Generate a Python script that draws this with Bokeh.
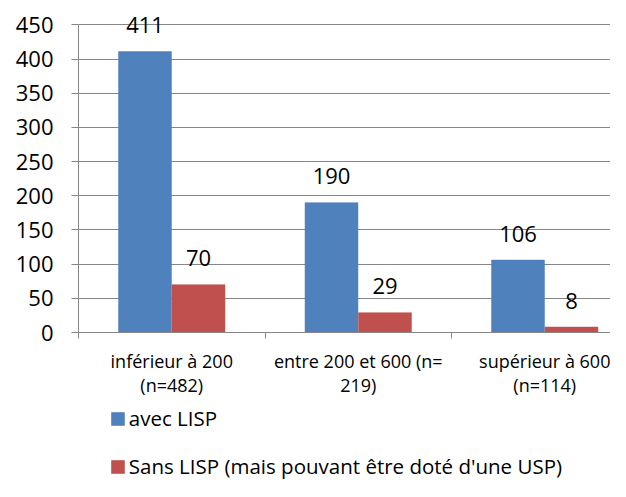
from bokeh.plotting import figure
from bokeh.layouts import column
from bokeh.models import (Range1d, FixedTicker, ColumnDataSource, LabelSet,
                          Legend, LegendItem)
from bokeh.transform import dodge
from bokeh.core.properties import value
from bokeh.embed import file_html
from bokeh.resources import INLINE

# ---- data ----
categories = ["inférieur à 200\n(n=482)", "entre 200 et 600 (n=\n219)", "supérieur à 600\n(n=114)"]
avec_lisp = [411, 190, 106]
sans_lisp = [70, 29, 8]
y_ticks = [0, 50, 100, 150, 200, 250, 300, 350, 400, 450]
series_names = ["avec LISP", "Sans LISP (mais pouvant être doté d'une USP)"]

BLUE = "#4F81BD"
RED = "#C0504D"
GRAY = "#868686"
FONT = "Open Sans"

x_pos = [i + 0.5 for i in range(len(categories))]
source = ColumnDataSource(dict(x=x_pos, avec=avec_lisp, sans=sans_lisp,
                               avec_t=[str(v) for v in avec_lisp],
                               sans_t=[str(v) for v in sans_lisp]))

p = figure(width=610, height=400,
           x_range=Range1d(0, 532 / 186.5), y_range=Range1d(0, 333 / (308.5 / 450)),
           output_backend="svg", toolbar_location=None,
           min_border_left=78, min_border_right=0, min_border_top=0,
           min_border_bottom=67)
p.outline_line_color = None
p.background_fill_color = "white"
p.border_fill_color = "white"

r1 = p.vbar(x=dodge("x", -0.1434, range=p.x_range), top="avec", width=0.284,
            source=source, fill_color=BLUE, line_color=BLUE, line_width=0.5)
r2 = p.vbar(x=dodge("x", 0.1434, range=p.x_range), top="sans", width=0.284,
            source=source, fill_color=RED, line_color=RED, line_width=0.5)

# value labels
for col, off in (("avec", -0.1434), ("sans", 0.1434)):
    p.add_layout(LabelSet(x=dodge("x", off, range=p.x_range), y=col, text=col + "_t",
                          source=source, y_offset=18.5, text_align="center",
                          text_baseline="alphabetic", text_font=value(FONT),
                          text_font_size="22px", text_color="black"))

# y axis
p.yaxis.ticker = FixedTicker(ticks=y_ticks)
p.yaxis.bounds = (0, 450)
p.yaxis.axis_line_color = GRAY
p.yaxis.major_tick_line_color = GRAY
p.yaxis.major_tick_out = 7
p.yaxis.major_tick_in = 0
p.yaxis.minor_tick_line_color = None
p.yaxis.major_label_standoff = 18
p.yaxis.major_label_text_font = FONT
p.yaxis.major_label_text_font_size = "22px"
p.yaxis.major_label_text_color = "black"

p.ygrid.ticker = FixedTicker(ticks=y_ticks)
p.ygrid.grid_line_color = GRAY
p.ygrid.grid_line_width = 1
p.xgrid.visible = False

# x axis
p.xaxis.ticker = FixedTicker(ticks=x_pos, minor_ticks=list(range(len(categories) + 1)))
p.xaxis.major_label_overrides = {x: c for x, c in zip(x_pos, categories)}
p.xaxis.axis_line_color = GRAY
p.xaxis.major_tick_out = 0
p.xaxis.major_tick_in = 0
p.xaxis.major_tick_line_color = None
p.xaxis.minor_tick_line_color = GRAY
p.xaxis.minor_tick_out = 6
p.xaxis.minor_tick_in = 0
p.xaxis.major_label_standoff = 10
p.xaxis.major_label_text_font = FONT
p.xaxis.major_label_text_font_size = "18px"
p.xaxis.major_label_text_line_height = 1.04
p.xaxis.major_label_text_color = "black"

# legend in its own strip below the chart (zero-width proxy bars: nothing drawn)
pl = figure(width=610, height=81, x_range=Range1d(0, 1), y_range=Range1d(0, 1),
            output_backend="svg", toolbar_location=None,
            x_axis_location=None, y_axis_location=None, min_border=0)
pl.outline_line_color = None
pl.grid.visible = False
lr1 = pl.vbar(x="x", top="avec", width=0, source=source,
              fill_color=BLUE, line_color=None)
lr2 = pl.vbar(x="x", top="sans", width=0, source=source,
              fill_color=RED, line_color=None)
legend = Legend(items=[LegendItem(label=series_names[0], renderers=[lr1], index=0),
                       LegendItem(label=series_names[1], renderers=[lr2], index=0)],
                location=(30.8, 1), orientation="vertical",
                glyph_width=17, glyph_height=17, label_standoff=3,
                padding=0, margin=0, spacing=20,
                border_line_color=None, background_fill_alpha=0,
                label_text_font=FONT, label_text_font_size="20.5px",
                label_text_color="black")
pl.add_layout(legend, "center")

layout = column(p, pl, spacing=0)
open("out.html", "w").write(file_html(layout, INLINE))
